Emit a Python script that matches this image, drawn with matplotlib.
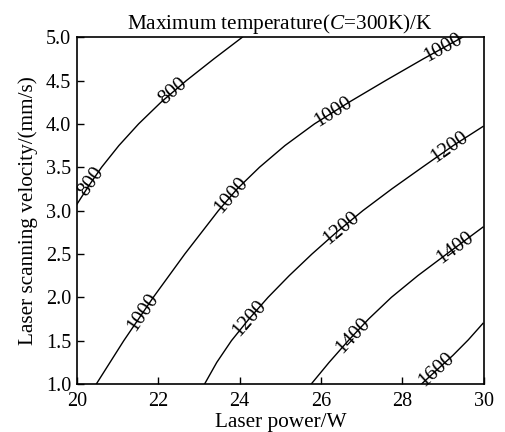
import numpy as np
import matplotlib
matplotlib.use("Agg")
import matplotlib.pyplot as plt

plt.rcParams['font.family'] = ['Liberation Serif', 'DejaVu Serif']
plt.rcParams['mathtext.fontset'] = 'custom'
plt.rcParams['mathtext.rm'] = 'Liberation Serif'
plt.rcParams['mathtext.it'] = 'Liberation Serif:italic'

# contour lines: laser power (W) vs velocity (mm/s)
p_800 = [20.0, 20.3, 20.61, 21.035, 21.52, 22.07, 22.695, 23.37, 24.07]
v_800 = [3.07, 3.29, 3.50, 3.75, 4.0, 4.25, 4.5, 4.75, 5.0]

p_1000 = [20.48, 21.155, 21.88, 22.655, 23.48, 23.94, 24.49, 25.115, 25.84,
          26.69, 27.59, 28.515, 29.48]
v_1000 = [1.0, 1.5, 2.0, 2.5, 3.0, 3.25, 3.5, 3.75, 4.0,
          4.25, 4.5, 4.75, 5.0]

p_1200 = [23.14, 23.44, 23.80, 24.23, 24.70, 25.22, 25.78, 26.38, 27.03,
          27.74, 28.49, 29.25, 29.98]
v_1200 = [1.0, 1.25, 1.5, 1.75, 2.0, 2.25, 2.5, 2.75, 3.0,
          3.25, 3.5, 3.75, 3.97]

p_1400 = [25.76, 26.20, 26.67, 27.17, 27.73, 28.38, 29.09, 29.98]
v_1400 = [1.0, 1.25, 1.5, 1.75, 2.0, 2.25, 2.5, 2.81]

p_1600 = [28.47, 28.84, 29.24, 29.62, 29.98]
v_1600 = [1.0, 1.16, 1.33, 1.51, 1.70]

levels = [800, 1000, 1200, 1400, 1600]
lines_p = [p_800, p_1000, p_1200, p_1400, p_1600]
lines_v = [v_800, v_1000, v_1200, v_1400, v_1600]

# where the inline labels sit (power value along each line)
label_p = [[20.36, 22.37],
           [21.63, 23.80, 26.30, 29.0],
           [24.25, 26.50, 29.17],
           [26.79, 29.29],
           [28.84]]

fig = plt.figure(figsize=(5.05, 4.32), dpi=100)
ax = fig.add_axes([0.152, 0.111, 0.806, 0.803])

for p, v in zip(lines_p, lines_v):
    ax.plot(p, v, color='black', lw=1.0)

ax.set_xlim(20, 30)
ax.set_ylim(1.0, 5.0)
ax.set_xticks([20, 22, 24, 26, 28, 30])
ax.set_yticks(np.arange(1.0, 5.01, 0.5))
ax.set_yticklabels(['%.1f' % t for t in np.arange(1.0, 5.01, 0.5)])
ax.tick_params(direction='in', length=5, width=1.0, labelsize=14.5,
               top=False, right=False)
ax.tick_params(axis='x', pad=6)
ax.tick_params(axis='y', pad=4)
for s in ax.spines.values():
    s.set_linewidth(1.2)

ax.set_xlabel('Laser power/W', fontsize=15.3, labelpad=1.5)
ax.set_ylabel('Laser scanning velocity/(mm/s)', fontsize=15.3, labelpad=6)
ax.set_title('Maximum temperature($\\it{C}$=300K)/K', fontsize=15.3, pad=6)

fig.canvas.draw()
for lev, p, v, lp in zip(levels, lines_p, lines_v, label_p):
    for x in lp:
        y = np.interp(x, p, v)
        x2 = x + 0.05
        y2 = np.interp(x2, p, v)
        a = ax.transData.transform([(x, y), (x2, y2)])
        ang = np.degrees(np.arctan2(a[1, 1] - a[0, 1], a[1, 0] - a[0, 0]))
        ax.text(x, y, str(lev), rotation=ang, rotation_mode='anchor',
                ha='center', va='center', fontsize=15, color='black')

fig.savefig('out.png', dpi=100)
